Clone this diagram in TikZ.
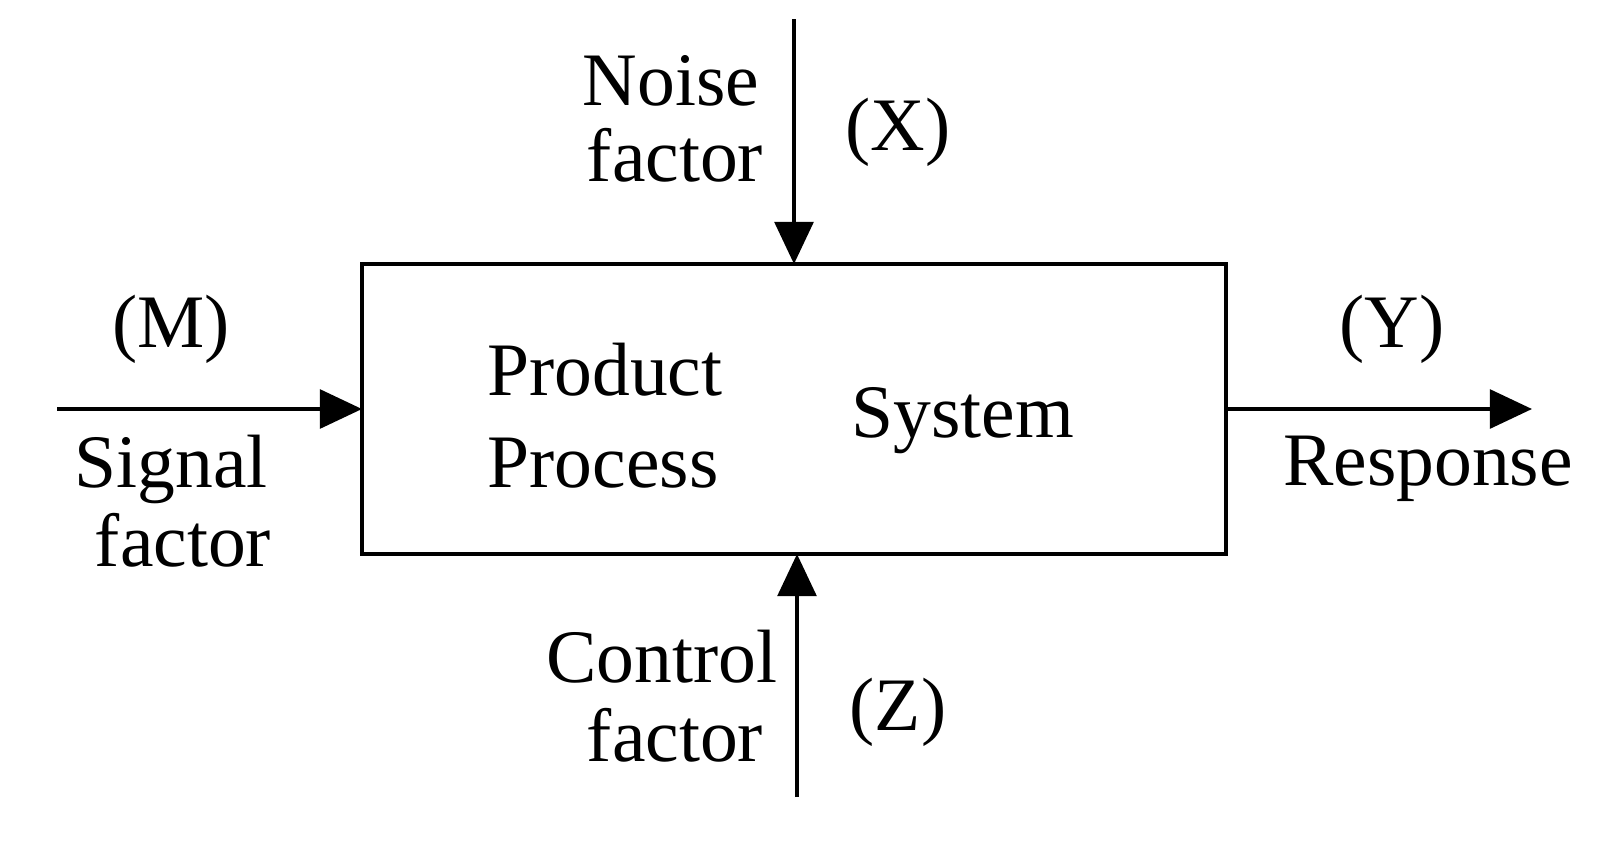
\documentclass[tikz,border=0pt]{standalone}
\usepackage{fontspec}
\setmainfont{Liberation Serif}
\usetikzlibrary{arrows.meta}

\begin{document}
\begin{tikzpicture}[x=0.02cm,y=-0.02cm,>={Triangle[length=24pt,width=22pt]}]
    \tikzset{lbl/.style={font=\fontsize{43}{50}\selectfont, inner sep=0pt},
             wire/.style={line width=2.4pt}}
    \useasboundingbox (0,0) rectangle (1615,846);
    % box
    \draw[wire] (362,264) rectangle (1226,554);
    \coordinate (btop) at (794,264);
    \coordinate (bbot) at (797,554);
    \coordinate (bleft) at (362,409);
    \coordinate (bright) at (1226,409);
    \coordinate (ntop) at (794,19);
    \coordinate (cbot) at (797,797);
    \coordinate (sin) at (57,409);
    \coordinate (rout) at (1532,409);
    % arrows
    \draw[wire,->] (ntop) -- (btop);
    \draw[wire,->] (cbot) -- (bbot);
    \draw[wire,->] (sin) -- (bleft);
    \draw[wire,->] (bright) -- (rout);
    % labels
    \node[lbl] (noise) at (671,81) {Noise};
    \node[lbl] (noisef) at (675,155) {factor};
    \node[lbl] (X) at (898,132) {(X)};
    \node[lbl] (M) at (171,329) {(M)};
    \node[lbl] (sig) at (171,469) {Signal};
    \node[lbl] (sigf) at (183,540) {factor};
    \node[lbl] (prod) at (605,370) {Product};
    \node[lbl] (proc) at (603,463) {Process};
    \node[lbl] (sys) at (963,421) {System};
    \node[lbl] (Y) at (1392,329) {(Y)};
    \node[lbl] (resp) at (1428,469) {Response};
    \node[lbl] (ctrl) at (662,657) {Control};
    \node[lbl] (ctrlf) at (675,735) {factor};
    \node[lbl] (Z) at (898,712) {(Z)};
\end{tikzpicture}
\end{document}
